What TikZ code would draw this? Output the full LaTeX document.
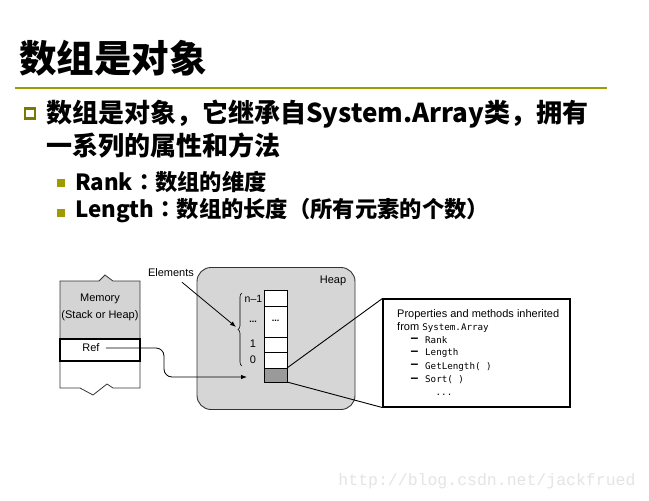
\documentclass[tikz,border=0pt]{standalone}
\usepackage{fontspec}
\setmainfont{Liberation Sans}
\newfontfamily\cjk{Noto Sans CJK SC}
\newfontfamily\cjkjp{Noto Sans CJK JP}
\newfontfamily\mono{DejaVu Sans Mono}
\newfontfamily\wmfont{Liberation Mono}
\usetikzlibrary{arrows.meta,decorations.pathreplacing,calc}
\definecolor{olv}{HTML}{9C9C00}
\definecolor{olvdark}{HTML}{7A7A00}
\definecolor{heapgray}{HTML}{D6D6D6}
\definecolor{memgray}{HTML}{D4D4D4}
\definecolor{hdrgray}{HTML}{9A9A9A}
\definecolor{edge}{HTML}{333333}
\definecolor{wmgray}{HTML}{E4E4E4}
\begin{document}
\begin{tikzpicture}[x=1pt,y=-1pt,
  titletext/.style={anchor=west,inner sep=0pt,font=\cjk\bfseries\fontsize{37.5}{40}\selectfont},
  lvlone/.style={anchor=west,inner sep=0pt,font=\cjk\bfseries\fontsize{26}{30}\selectfont},
  lvltwo/.style={anchor=west,inner sep=0pt,font=\cjk\bfseries\fontsize{22.3}{26}\selectfont},
  lbl/.style={inner sep=0pt,font=\fontsize{11}{12}\selectfont},
  lblw/.style={lbl,anchor=west},
  monow/.style={inner sep=0pt,anchor=west,font=\mono\fontsize{9.2}{11}\selectfont},
  dashmark/.style={inner sep=0pt,font=\bfseries\fontsize{14}{14}\selectfont},
  arr/.style={-{Latex[length=6pt,width=4.5pt]},line width=0.8pt},
  cellbox/.style={draw,line width=0.9pt,fill=white,minimum width=23,inner sep=0pt,outer sep=0pt},
  subbul/.style={fill=olv,minimum size=8,inner sep=0pt},
]
\fill[white] (0,0) rectangle (649,501);
\useasboundingbox (0,0) rectangle (649,501);

% ---- title and text ----
\node[titletext] (title) at (19,58) {数组是对象};
\draw[olv,line width=1.3pt] (15,88) -- (607,88);

\node[draw=olvdark,line width=2.2pt,fill=white,minimum size=10,inner sep=0pt] (bul0) at (30,113.5) {};
\node[lvlone] (l1) at (46,114) {数组是对象，它继承自System.Array类，拥有};
\node[lvlone] (l2) at (46,146) {一系列的属性和方法};

\node[subbul] (bul1) at (60.5,182.5) {};
\node[lvltwo] (s1) at (75,182) {Rank{\cjkjp ：}数组的维度};
\node[subbul] (bul2) at (60.5,212.5) {};
\node[lvltwo] (s2) at (75,211) {Length{\cjkjp ：}数组的长度（所有元素的个数）};

% ---- memory block ----
\fill[memgray] (60,281)--(99,281)--(105,275)--(113,281)--(140,281)--(140,339)--(60,339)--cycle;
\draw[edge,line width=0.8pt] (60,281)--(99,281)--(105,275)--(113,281)--(140,281)--(140,388)
  --(113,388)--(107,384)--(93,395)--(80,388)--(60,388)--cycle;
\node[lbl] (mem) at (100,299) {Memory};
\node[lbl] (stk) at (100,316) {(Stack or Heap)};
\node[draw,line width=1.3pt,fill=white,minimum width=80,minimum height=22,inner sep=0pt] (refbox) at (100,350) {};
\node[lbl] (ref) at (91,348) {Ref};

% ---- heap ----
\node[draw=edge,fill=heapgray,rounded corners=14pt,line width=0.9pt,minimum width=158,minimum height=142,inner sep=0pt] (heap) at (276,338.5) {};
\node[lbl] (heaplbl) at (333,281) {Heap};

\node[cellbox,minimum height=16] (cn) at (275.5,298) {};
\node[cellbox,minimum height=31] (cdots) at (275.5,321.5) {};
\node[cellbox,minimum height=15] (c1) at (275.5,344.5) {};
\node[cellbox,minimum height=16] (c0) at (275.5,360) {};
\node[cellbox,minimum height=14,fill=hdrgray] (chdr) at (275.5,375) {};
\node[inner sep=0pt,font=\bfseries\fontsize{9}{10}\selectfont] (celldots) at (275.5,321) {...};

\node[inner sep=0pt,font=\fontsize{10.5}{12}\selectfont] (ln) at (253.5,299) {n–1};
\node[inner sep=0pt,font=\bfseries\fontsize{9}{10}\selectfont] (ldots) at (253,321.5) {...};
\node[lbl] (l1lbl) at (253,344) {1};
\node[lbl] (l0lbl) at (253,359.5) {0};
\draw[decorate,decoration={brace,amplitude=4pt},line width=0.6pt] (242,366) -- (242,293);
\coordinate (bracetip) at (236,327);

\node[lbl] (elem) at (171,273) {Elements};
\draw[arr] ($(elem.south)+(11,5)$) -- (bracetip);

\coordinate (bend) at (164,377);
\coordinate (refend) at (247,377);
\draw[arr,rounded corners=8pt] ($(ref.east)+(6,0)$) -| (bend) -- (refend);

% ---- properties box ----
\node[draw,line width=1.1pt,fill=white,minimum width=187,minimum height=108,inner sep=0pt] (props) at (476.5,353) {};
\draw[line width=0.9pt] (chdr.north east) -- (props.north west);
\draw[line width=0.9pt] (chdr.south east) -- (props.south west);

\node[lblw] (p1) at (397,315) {Properties and methods inherited};
\node[lblw] (p2) at (397,327) {from {\mono\fontsize{9.2}{11}\selectfont System.Array}};
\node[dashmark] (d1) at (414.5,340) {–};
\node[monow] (m1) at (425,340) {Rank};
\node[dashmark] (d2) at (414.5,353) {–};
\node[monow] (m2) at (425,353) {Length};
\node[dashmark] (d3) at (414.5,366.5) {–};
\node[monow] (m3) at (425,366.5) {GetLength( )};
\node[dashmark] (d4) at (414.5,380) {–};
\node[monow] (m4) at (425,380) {Sort( )};
\node[inner sep=0pt,font=\mono\fontsize{9.2}{11}\selectfont] (m5) at (444,395) {...};

% ---- watermark ----
\node[inner sep=0pt,text=wmgray,font=\wmfont\fontsize{16.5}{18}\selectfont] (wm) at (487,481) {http://blog.csdn.net/jackfrued};
\end{tikzpicture}
\end{document}
